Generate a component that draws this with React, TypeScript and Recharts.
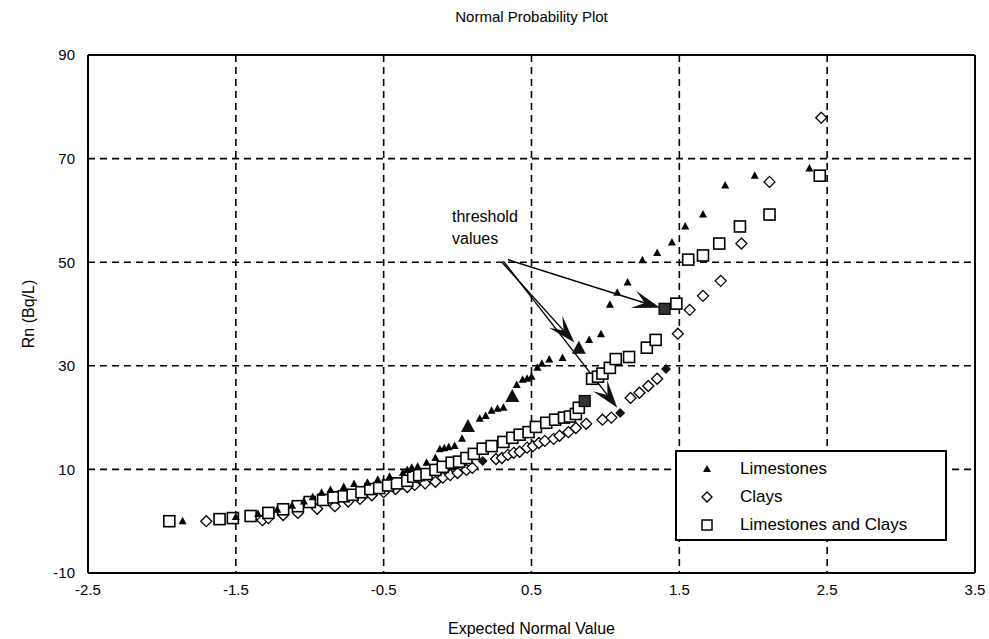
import React from 'react'
import { ScatterChart, Scatter, XAxis, YAxis, CartesianGrid, ReferenceLine, Label } from 'recharts'

const FONT = '"Liberation Sans", Arial, sans-serif'

const X_TICKS = [-2.5, -1.5, -0.5, 0.5, 1.5, 2.5, 3.5]
const Y_TICKS = [-10, 10, 30, 50, 70, 90]
const X_MINOR = [-2.25, -2, -1.75, -1.5, -1.25, -1, -0.75, -0.5, -0.25, 0, 0.25, 0.5, 0.75, 1, 1.25, 1.5, 1.75, 2, 2.25, 2.5, 2.75, 3, 3.25]
const Y_MINOR = [-6, -2, 2, 6, 10, 14, 18, 22, 26, 30, 34, 38, 42, 46, 50, 54, 58, 62, 66, 70, 74, 78, 82, 86]

// [expected normal value, Rn]
const limestones = [
  [-1.86, 0.0], [-1.5, 0.8], [-1.35, 1.4], [-1.22, 2.2], [-1.12, 3.0], [-1.04, 3.8], [-0.98, 4.6],
  [-0.92, 5.5], [-0.86, 6.0], [-0.77, 6.6], [-0.7, 7.2], [-0.61, 7.4], [-0.54, 8.0], [-0.46, 8.6],
  [-0.37, 9.3], [-0.34, 9.9], [-0.31, 10.3], [-0.27, 10.5], [-0.21, 11.3], [-0.15, 12.2], [-0.12, 13.9],
  [-0.09, 14.1], [-0.06, 14.3], [-0.02, 14.5], [0.03, 15.9], [0.15, 19.8], [0.19, 20.3], [0.23, 21.3],
  [0.27, 21.7], [0.31, 21.9], [0.4, 26.3], [0.44, 27.3], [0.47, 27.5], [0.5, 27.9], [0.54, 29.6],
  [0.57, 30.4], [0.62, 31.2], [0.71, 31.5], [0.89, 35.0], [0.97, 36.1], [1.03, 41.8], [1.08, 44.1],
  [1.15, 46.1], [1.25, 50.4], [1.35, 51.8], [1.45, 53.8], [1.54, 56.9], [1.66, 59.2], [1.81, 64.8],
  [2.01, 66.7], [2.38, 68.1],
]
const limestonesBig = [[0.07, 18.2], [0.37, 24.0], [0.82, 33.3]]

const clays = [
  [-1.7, 0.0], [-1.32, 0.2], [-1.28, 0.6], [-1.18, 1.2], [-1.08, 1.6], [-0.95, 2.4], [-0.83, 2.9],
  [-0.74, 3.8], [-0.66, 4.3], [-0.58, 5.0], [-0.5, 5.6], [-0.42, 6.2], [-0.34, 6.6], [-0.29, 7.0],
  [-0.22, 7.3], [-0.15, 7.6], [-0.1, 8.4], [-0.05, 8.9], [0.0, 9.3], [0.06, 9.9], [0.1, 10.3],
  [0.26, 12.0], [0.3, 12.2], [0.34, 12.8], [0.38, 13.2], [0.42, 13.4], [0.47, 14.2], [0.51, 14.5],
  [0.55, 15.1], [0.59, 15.5], [0.65, 15.9], [0.69, 16.5], [0.75, 17.2], [0.8, 18.0], [0.87, 18.8],
  [0.98, 19.6], [1.04, 20.0], [1.17, 23.8], [1.23, 24.8], [1.29, 26.1], [1.35, 27.5], [1.49, 36.2],
  [1.57, 40.8], [1.66, 43.5], [1.78, 46.4], [1.92, 53.6], [2.11, 65.5], [2.46, 77.9],
]
const claysMarked = [[0.17, 11.6], [1.1, 20.9], [1.41, 29.4]]

const mixed = [
  [-1.95, 0.0], [-1.61, 0.4], [-1.52, 0.6], [-1.4, 1.0], [-1.28, 1.6], [-1.18, 2.3], [-1.08, 2.9],
  [-1.0, 3.7], [-0.91, 4.1], [-0.84, 4.6], [-0.77, 4.8], [-0.71, 5.1], [-0.65, 5.6], [-0.59, 6.2],
  [-0.53, 6.4], [-0.47, 6.9], [-0.41, 7.3], [-0.34, 7.8], [-0.3, 8.6], [-0.26, 8.9], [-0.21, 9.1],
  [-0.15, 9.9], [-0.1, 10.5], [-0.04, 11.3], [0.01, 11.5], [0.06, 12.2], [0.11, 13.0], [0.17, 14.0],
  [0.23, 14.5], [0.31, 15.3], [0.37, 16.1], [0.42, 16.7], [0.48, 17.2], [0.53, 18.2], [0.6, 19.0],
  [0.66, 19.6], [0.72, 20.0], [0.76, 20.2], [0.8, 20.7], [0.82, 21.9], [0.91, 27.5], [0.95, 27.9],
  [0.98, 28.5], [1.03, 29.6], [1.07, 31.3], [1.16, 31.7], [1.28, 33.5], [1.34, 35.0], [1.48, 42.0],
  [1.56, 50.5], [1.66, 51.3], [1.77, 53.6], [1.91, 56.9], [2.11, 59.2], [2.45, 66.7],
]
const mixedMarked = [[0.86, 23.2], [1.4, 41.0]]

// threshold arrows: from -> to
const arrows = [
  [0.34, 50.5, 1.37, 41.2],
  [0.3, 50.0, 0.79, 34.5],
  [0.31, 50.2, 1.08, 21.9],
]

const pts = (a: number[][]) => a.map(([x, y]) => ({ x, y }))

const Tri = ({ cx, cy }: any) => (
  <polygon points={`${cx},${cy - 4.5} ${cx + 4},${cy + 3} ${cx - 4},${cy + 3}`} fill="#000" />
)
const BigTri = ({ cx, cy }: any) => (
  <polygon points={`${cx},${cy - 8} ${cx + 7},${cy + 5} ${cx - 7},${cy + 5}`} fill="#111" />
)
const Diamond = ({ cx, cy }: any) => (
  <polygon points={`${cx},${cy - 5.5} ${cx + 5.5},${cy} ${cx},${cy + 5.5} ${cx - 5.5},${cy}`}
    fill="#fff" stroke="#000" strokeWidth={1.3} />
)
const DotDiamond = ({ cx, cy }: any) => (
  <polygon points={`${cx},${cy - 5} ${cx + 5},${cy} ${cx},${cy + 5} ${cx - 5},${cy}`} fill="#111" />
)
const Square = ({ cx, cy }: any) => (
  <rect x={cx - 5.5} y={cy - 5.5} width={11} height={11} fill="#fff" stroke="#000" strokeWidth={1.6} />
)
const DarkSquare = ({ cx, cy }: any) => (
  <rect x={cx - 5.5} y={cy - 5.5} width={11} height={11} fill="#333" stroke="#000" strokeWidth={1.2} />
)

function Arrow({ x1, y1, x2, y2 }: any) {
  const a = Math.atan2(y2 - y1, x2 - x1)
  const c = Math.cos(a), s = Math.sin(a)
  const p = (d: number, w: number) => `${x2 - d * c - w * s},${y2 - d * s + w * c}`
  return (
    <g>
      <line x1={x1} y1={y1} x2={x2 - 16 * c} y2={y2 - 16 * s} stroke="#000" strokeWidth={1.4} />
      <polygon points={`${x2},${y2} ${p(28, 9)} ${p(16, 0)} ${p(28, -9)}`} fill="#111" />
    </g>
  )
}

function LegendBox() {
  const rows = [
    { label: 'Limestones', icon: <polygon points="7,3 11,10 3,10" fill="#000" /> },
    { label: 'Clays', icon: <polygon points="7,2 12,7 7,12 2,7" fill="#fff" stroke="#000" strokeWidth={1.3} /> },
    { label: 'Limestones and Clays', icon: <rect x={2} y={2} width={10} height={10} fill="#fff" stroke="#000" strokeWidth={1.5} /> },
  ]
  return (
    <div style={{
      position: 'absolute', left: 675, top: 450, width: 272, height: 91, background: '#fff',
      border: '2px solid #000', fontFamily: FONT, fontSize: 17, paddingTop: 3, boxSizing: 'border-box',
    }}>
      {rows.map(r => (
        <div key={r.label} style={{ display: 'flex', alignItems: 'center', height: 28 }}>
          <svg width={14} height={14} style={{ marginLeft: 23, marginRight: 26 }}>{r.icon}</svg>
          <span>{r.label}</span>
        </div>
      ))}
    </div>
  )
}

export default function App() {
  const axisStroke = { stroke: '#000', strokeWidth: 2 }
  return (
    <div style={{ position: 'absolute', left: 0, top: 0, width: 989, height: 639, background: '#fff', fontFamily: FONT }}>
      <div style={{ position: 'absolute', left: 88, top: 8, width: 887, textAlign: 'center', fontSize: 15 }}>
        Normal Probability Plot
      </div>
      <ScatterChart width={989} height={639} margin={{ top: 55, right: 14, bottom: 0, left: 0 }}
        style={{ fontFamily: FONT }}>
        <CartesianGrid stroke="#000" strokeWidth={1.6} strokeDasharray="7 5" />
        <XAxis dataKey="x" type="number" domain={[-2.5, 3.5]} ticks={X_TICKS} allowDataOverflow
          height={66} tickLine={false} axisLine={false} tickSize={8} tickMargin={3}
          tick={{ fill: '#000', fontSize: 15 }}>
          <Label value="Expected Normal Value" position="insideBottom" offset={5} fill="#000" fontSize={16} />
        </XAxis>
        <YAxis dataKey="y" type="number" domain={[-10, 90]} ticks={Y_TICKS} allowDataOverflow
          width={88} tickLine={false} axisLine={false} tickSize={8} tickMargin={5}
          tick={{ fill: '#000', fontSize: 15 }}>
          <Label value="Rn (Bq/L)" angle={-90} position="insideLeft" offset={28} fill="#000" fontSize={16}
            style={{ textAnchor: 'middle' }} />
        </YAxis>
        <XAxis xAxisId="mb" type="number" domain={[-2.5, 3.5]} ticks={X_MINOR} allowDataOverflow
          orientation="bottom" mirror tick={false} tickSize={5} axisLine={axisStroke} tickLine={{ stroke: '#000' }} />
        <XAxis xAxisId="mt" type="number" domain={[-2.5, 3.5]} ticks={X_MINOR} allowDataOverflow
          orientation="top" mirror tick={false} tickSize={5} axisLine={axisStroke} tickLine={{ stroke: '#000' }} />
        <YAxis yAxisId="ml" type="number" domain={[-10, 90]} ticks={Y_MINOR} allowDataOverflow
          orientation="left" mirror tick={false} tickSize={5} axisLine={axisStroke} tickLine={{ stroke: '#000' }} />
        <YAxis yAxisId="mr" type="number" domain={[-10, 90]} ticks={Y_MINOR} allowDataOverflow
          orientation="right" mirror tick={false} tickSize={5} axisLine={axisStroke} tickLine={{ stroke: '#000' }} />

        <Scatter name="Clays" data={pts(clays)} shape={Diamond} isAnimationActive={false} />
        <Scatter name="Clays marked" data={pts(claysMarked)} shape={DotDiamond} isAnimationActive={false} />
        <Scatter name="Limestones and Clays" data={pts(mixed)} shape={Square} isAnimationActive={false} />
        <Scatter name="Limestones and Clays marked" data={pts(mixedMarked)} shape={DarkSquare} isAnimationActive={false} />
        <Scatter name="Limestones" data={pts(limestones)} shape={Tri} isAnimationActive={false} />
        <Scatter name="Limestones marked" data={pts(limestonesBig)} shape={BigTri} isAnimationActive={false} />

        {arrows.map((a, i) => (
          <ReferenceLine key={i} segment={[{ x: a[0], y: a[1] }, { x: a[2], y: a[3] }]} shape={Arrow} />
        ))}
      </ScatterChart>
      <div style={{ position: 'absolute', left: 452, top: 206, fontSize: 16, lineHeight: '22px' }}>
        threshold<br />values
      </div>
      <LegendBox />
    </div>
  )
}
